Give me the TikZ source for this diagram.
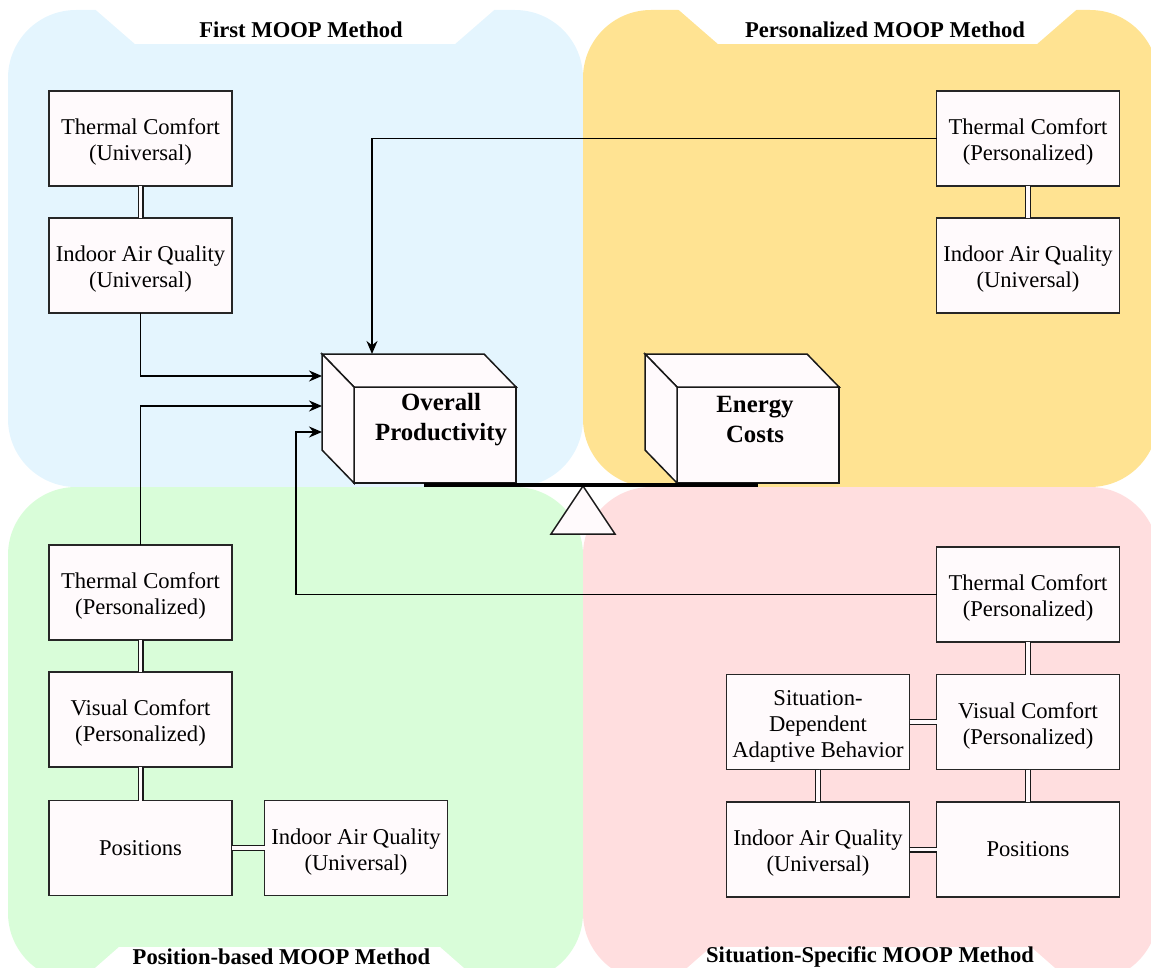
\documentclass[tikz,border=0pt]{standalone}
\usepackage{fontspec}
\setmainfont{Liberation Serif}
\usetikzlibrary{arrows.meta,calc}
\definecolor{qblue}{HTML}{E4F5FE}
\definecolor{qyellow}{HTML}{FFE392}
\definecolor{qgreen}{HTML}{D9FDD9}
\definecolor{qpink}{HTML}{FFDEDF}
\definecolor{boxfill}{HTML}{FFFAFC}
\newcommand\lwr{\rule{0pt}{11.8pt}}
\begin{document}
\begin{tikzpicture}[x=0.5pt,y=-0.5pt,
  quad/.style={rounded corners=34pt},
  titletext/.style={font=\fontsize{11.3}{13}\selectfont\bfseries, inner sep=0},
  mbox/.style={draw=black!85, fill=boxfill, line width=0.75pt, minimum width=91.5pt,
    minimum height=47.5pt, align=center, inner sep=0, outer sep=0,
    font=\fontsize{11.3}{13}\selectfont},
  face/.style={draw=black!90, fill=boxfill, line width=0.75pt, line join=miter},
  cubeback/.style={minimum width=81pt, minimum height=48pt, inner sep=0, outer sep=0},
  cubefront/.style={face, minimum width=81pt, minimum height=48pt, inner sep=0, outer sep=0},
  cubetext/.style={align=center, inner sep=0, font=\fontsize{12.4}{15}\selectfont\bfseries},
  dbl/.style={draw=black!90, line width=0.6pt, double=boxfill, double distance=1.8pt},
  arr/.style={draw=black, line width=0.65pt, -{Stealth[length=6.5pt,width=5.5pt]}}
]
\useasboundingbox (0,0) rectangle (1151,968);
\begin{scope}
\clip (0,0) rectangle (1151,968);
\fill[qblue, quad] (8,10) rectangle (583,487);
\fill[qyellow, quad] (583,10) rectangle (1158,487);
\fill[qgreen, quad] (8,487) rectangle (583,981);
\fill[qpink, quad] (583,487) rectangle (1158,981);
\fill[white] (89,4) -- (135,44) -- (455,44) -- (501,4) -- cycle;
\fill[white] (672,4) -- (718,44) -- (1037,44) -- (1083,4) -- cycle;
\fill[white] (70,990) -- (119,947) -- (440,947) -- (489,990) -- cycle;
\fill[white] (662,990) -- (711,947) -- (1031,947) -- (1080,990) -- cycle;
\end{scope}

% titles
\node[titletext] (t1) at (301,30) {First MOOP Method};
\node[titletext] (t2) at (885,30) {Personalized MOOP Method};
\node[titletext] (t3) at (281.5,957) {Position-based MOOP Method};
\node[titletext] (t4) at (870,957) {Situation-Specific MOOP Method};

% boxes: first method
\node[mbox] (tc1) at (140.5,138.5) {\lwr Thermal Comfort\\(Universal)};
\node[mbox] (iaq1) at (140.5,265.5) {\lwr Indoor Air Quality\\(Universal)};
% personalized
\node[mbox] (tc2) at (1028,138.5) {\lwr Thermal Comfort\\(Personalized)};
\node[mbox] (iaq2) at (1028,265.5) {\lwr Indoor Air Quality\\(Universal)};
% position-based
\node[mbox] (tc3) at (140.5,592.5) {\lwr Thermal Comfort\\(Personalized)};
\node[mbox] (vc3) at (140.5,719.5) {\lwr Visual Comfort\\(Personalized)};
\node[mbox] (pos3) at (140.5,848) {Positions};
\node[mbox] (iaq3) at (356,848) {\lwr Indoor Air Quality\\(Universal)};
% situation-specific
\node[mbox] (tc4) at (1028,594.5) {\lwr Thermal Comfort\\(Personalized)};
\node[mbox] (vc4) at (1028,722) {\lwr Visual Comfort\\(Personalized)};
\node[mbox] (pos4) at (1028,849.5) {Positions};
\node[mbox] (sda4) at (818,722) {\lwr Situation-\\Dependent\\Adaptive Behavior};
\node[mbox] (iaq4) at (818,849.5) {\lwr Indoor Air Quality\\(Universal)};

% double links
\draw[dbl] (tc1) -- (iaq1);
\draw[dbl] (tc2) -- (iaq2);
\draw[dbl] (tc3) -- (vc3);
\draw[dbl] (vc3) -- (pos3);
\draw[dbl] (pos3) -- (iaq3);
\draw[dbl] (tc4) -- (vc4);
\draw[dbl] (vc4) -- (pos4);
\draw[dbl] (sda4) -- (vc4);
\draw[dbl] (iaq4) -- (pos4);
\draw[dbl] (sda4) -- (iaq4);

% balance beam and fulcrum
\coordinate (beamL) at (424,485);
\coordinate (beamR) at (758,485);
\coordinate (fulA) at (583,486);
\coordinate (fulB) at (551,534);
\coordinate (fulC) at (615,534);
\draw[face] (fulA) -- (fulB) -- (fulC) -- cycle;

% Overall productivity cube
\node[cubeback] (opb) at (403,402) {};
\node[cubefront] (opf) at (435,435) {};
\draw[face] (opb.north west) -- (opb.north east) -- (opf.north east) -- (opf.north west) -- cycle;
\draw[face] (opb.north west) -- (opf.north west) -- (opf.south west) -- (opb.south west) -- cycle;
\node[cubetext] (optxt) at (441,420) {Overall\\Productivity};

% Energy costs cube
\node[cubeback] (ecb) at (726,402) {};
\node[cubefront] (ecf) at (758,435) {};
\draw[face] (ecb.north west) -- (ecb.north east) -- (ecf.north east) -- (ecf.north west) -- cycle;
\draw[face] (ecb.north west) -- (ecf.north west) -- (ecf.south west) -- (ecb.south west) -- cycle;
\node[cubetext] (ectxt) at (755,420) {Energy\\Costs};

\draw[line width=1.6pt, black] (beamL) -- (beamR);

% arrows into productivity
\coordinate (opin1) at (322,376);
\coordinate (opin2) at (322,406);
\coordinate (opin3) at (322,432);
\coordinate (optop) at (372,354);
\coordinate (bendc) at (296,0);
\draw[arr] (iaq1.south) |- (opin1);
\draw[arr] (tc3.north) |- (opin2);
\draw[arr] (tc4.west) -- (tc4.west -| bendc) |- (opin3);
\draw[arr] (tc2.west) -| (optop);
\end{tikzpicture}
\end{document}
